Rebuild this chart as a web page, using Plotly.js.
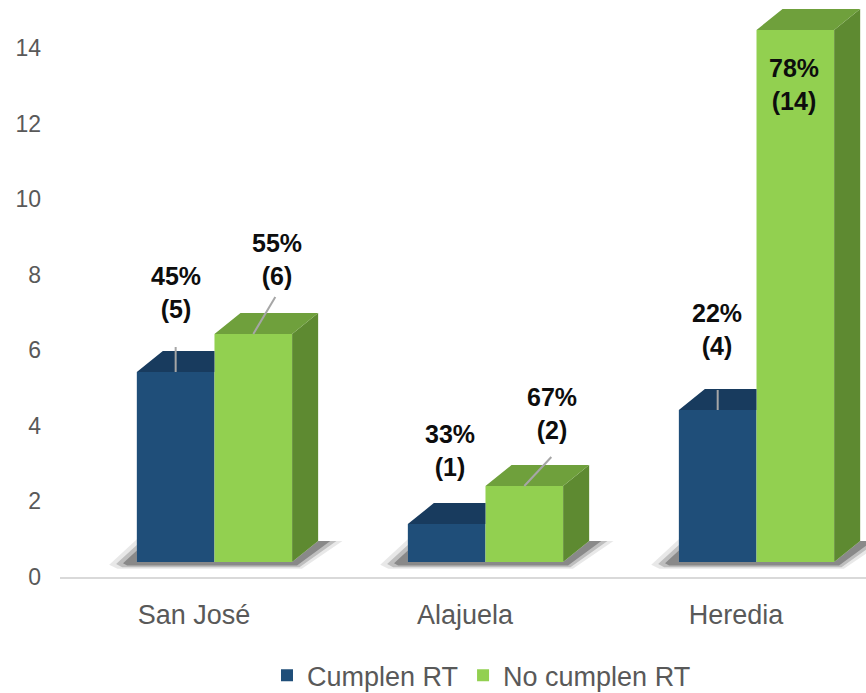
<!DOCTYPE html>
<html>
<head>
<meta charset="utf-8">
<script src="https://cdn.plot.ly/plotly-3.0.1.min.js"></script>
<style>html,body{margin:0;padding:0;background:#fff;}#chart{width:866px;height:693px;}</style>
</head>
<body>
<div id="chart"></div>
<script>
// ---- data ----
const categories = ['San José', 'Alajuela', 'Heredia'];
const cumplen = [5, 1, 4];
const noCumplen = [6, 2, 14];
const pctCumplen = ['45%', '33%', '22%'];
const pctNoCumplen = ['55%', '67%', '78%'];
const yTicks = [0, 2, 4, 6, 8, 10, 12, 14];
const seriesNames = ['Cumplen RT', 'No cumplen RT'];

// ---- styling / geometry (not data) ----
const W = 0.2865;        // bar width (category units)
const DX = 0.096;        // 3D depth, x units
const DY = 0.55;         // 3D depth, y units
const FONT = 'Liberation Sans, Arial, sans-serif';
const blueFront = '#1F4E79', blueTop = '#183B5E';
const greenFront = '#92D050', greenTop = '#6FA03C', greenSide = '#5E8A31';
// label offsets in pixels [xshift, yshift] and leader lines [dx, dy]
const labelShiftC = [[0, 79], [3, 74], [-1, 81]];
const labelShiftN = [[24, 74], [28, 73], [-1, -55]];
const leaderC = [[0, 25], null, [0, 20]];
const leaderN = [[22, 37], [27, 29], null];

const idx = categories.map((c, i) => i);

function poly(list) {
  const xs = [], ys = [];
  list.forEach((p, k) => {
    if (k > 0) { xs.push(null); ys.push(null); }
    p.forEach(pt => { xs.push(pt[0]); ys.push(pt[1]); });
    xs.push(p[0][0]); ys.push(p[0][1]);
  });
  return {x: xs, y: ys};
}
function polyTrace(list, color) {
  const p = poly(list);
  return {type: 'scatter', x: p.x, y: p.y, xaxis: 'x2', yaxis: 'y2', mode: 'lines',
    line: {width: 0, color: 'rgba(0,0,0,0)'}, fill: 'toself', fillcolor: color,
    hoverinfo: 'skip', showlegend: false};
}

// soft floor shadows, built in layers (they leave the bar faces uncovered)
function shadowLayer(s) {
  return idx.map(i => {
    const L = i - W, R = i + W;
    return [[L, 0.5 * s], [L - 0.085 * s, -0.06 * s], [L - 0.06 * s, -0.15 * s],
            [R + 0.03 * s, -0.15 * s], [R + DX + 0.075 * s, DY], [R + DX, DY], [R, 0], [L, 0]];
  });
}

const blueTops = idx.map(i => {
  const v = cumplen[i];
  return [[i - W, v], [i, v], [i, v + DY], [i - W + DX, v + DY]];
});
const greenSides = idx.map(i => {
  const v = noCumplen[i];
  return [[i + W, 0], [i + W, v], [i + W + DX, v + DY], [i + W + DX, DY]];
});
const greenTops = idx.map(i => {
  const v = noCumplen[i];
  return [[i, v], [i + W, v], [i + W + DX, v + DY], [i + DX, v + DY]];
});

const data = [
  {type: 'bar', name: seriesNames[0], x: idx, y: cumplen, width: W, offset: -W,
   xaxis: 'x2', yaxis: 'y2', marker: {color: blueFront, line: {width: 0}}, hoverinfo: 'skip'},
  {type: 'bar', name: seriesNames[1], x: idx, y: noCumplen, width: W, offset: 0,
   xaxis: 'x2', yaxis: 'y2', marker: {color: greenFront, line: {width: 0}}, hoverinfo: 'skip'},
  polyTrace(shadowLayer(1.2), 'rgba(0,0,0,0.09)'),
  polyTrace(shadowLayer(0.9), 'rgba(0,0,0,0.18)'),
  polyTrace(shadowLayer(0.6), 'rgba(0,0,0,0.28)'),
  polyTrace(blueTops, blueTop),
  polyTrace(greenSides, greenSide),
  polyTrace(greenTops, greenTop),
  {type: 'scatter', x: [], y: [], showlegend: false, hoverinfo: 'skip'}
];

const annotations = [];
const shapes = [];
idx.forEach(i => {
  const cb = i - W / 2, cg = i + W / 2;
  annotations.push({xref: 'x2', yref: 'y2', x: cb, y: cumplen[i],
    xshift: labelShiftC[i][0], yshift: labelShiftC[i][1], showarrow: false,
    xanchor: 'center', yanchor: 'middle',
    text: '<b>' + pctCumplen[i] + '</b><br><b>(' + cumplen[i] + ')</b>',
    font: {family: FONT, size: 25, color: '#0D0D0D'}});
  annotations.push({xref: 'x2', yref: 'y2', x: cg, y: noCumplen[i],
    xshift: labelShiftN[i][0], yshift: labelShiftN[i][1], showarrow: false,
    xanchor: 'center', yanchor: 'middle',
    text: '<b>' + pctNoCumplen[i] + '</b><br><b>(' + noCumplen[i] + ')</b>',
    font: {family: FONT, size: 25, color: '#0D0D0D'}});
  if (leaderC[i]) shapes.push({type: 'line', xref: 'x2', yref: 'y2', xsizemode: 'pixel', ysizemode: 'pixel',
    xanchor: cb, yanchor: cumplen[i], x0: 0, y0: 0, x1: leaderC[i][0], y1: leaderC[i][1],
    line: {color: '#A6A6A6', width: 2}, layer: 'above'});
  if (leaderN[i]) shapes.push({type: 'line', xref: 'x2', yref: 'y2', xsizemode: 'pixel', ysizemode: 'pixel',
    xanchor: cg, yanchor: noCumplen[i], x0: 0, y0: 0, x1: leaderN[i][0], y1: leaderN[i][1],
    line: {color: '#A6A6A6', width: 2}, layer: 'above'});
});

const layout = {
  width: 866, height: 693,
  margin: {l: 60, r: 0, t: 0, b: 116, pad: 0},
  paper_bgcolor: '#ffffff', plot_bgcolor: '#ffffff',
  font: {family: FONT, color: '#595959'},
  showlegend: true,
  barmode: 'overlay',
  xaxis: {range: [-0.4945, 2.4797], tickmode: 'array', tickvals: idx, ticktext: categories,
    showline: true, linecolor: '#D9D9D9', linewidth: 2, showgrid: false, zeroline: false,
    ticks: '', ticklabelstandoff: 13, tickfont: {family: FONT, size: 27, color: '#595959'}, fixedrange: true},
  yaxis: {range: [0, 15.268], tickmode: 'array', tickvals: yTicks, showgrid: false, zeroline: false,
    showline: false, ticks: '', ticklabelstandoff: 18,
    tickfont: {family: FONT, size: 23, color: '#595959'}, fixedrange: true},
  xaxis2: {overlaying: 'x', anchor: 'y2', range: [-0.570, 2.404], visible: false, fixedrange: true},
  yaxis2: {overlaying: 'y', anchor: 'x2', range: [-0.3947, 14.789], visible: false, fixedrange: true},
  legend: {orientation: 'h', xref: 'container', yref: 'container', x: 0.556, y: 0.025,
    xanchor: 'center', yanchor: 'middle', font: {family: FONT, size: 27, color: '#595959'},
    itemwidth: 30, traceorder: 'normal', bgcolor: 'rgba(0,0,0,0)'},
  annotations: annotations,
  shapes: shapes
};

Plotly.newPlot('chart', data, layout, {displayModeBar: false, staticPlot: true});
</script>
</body>
</html>
